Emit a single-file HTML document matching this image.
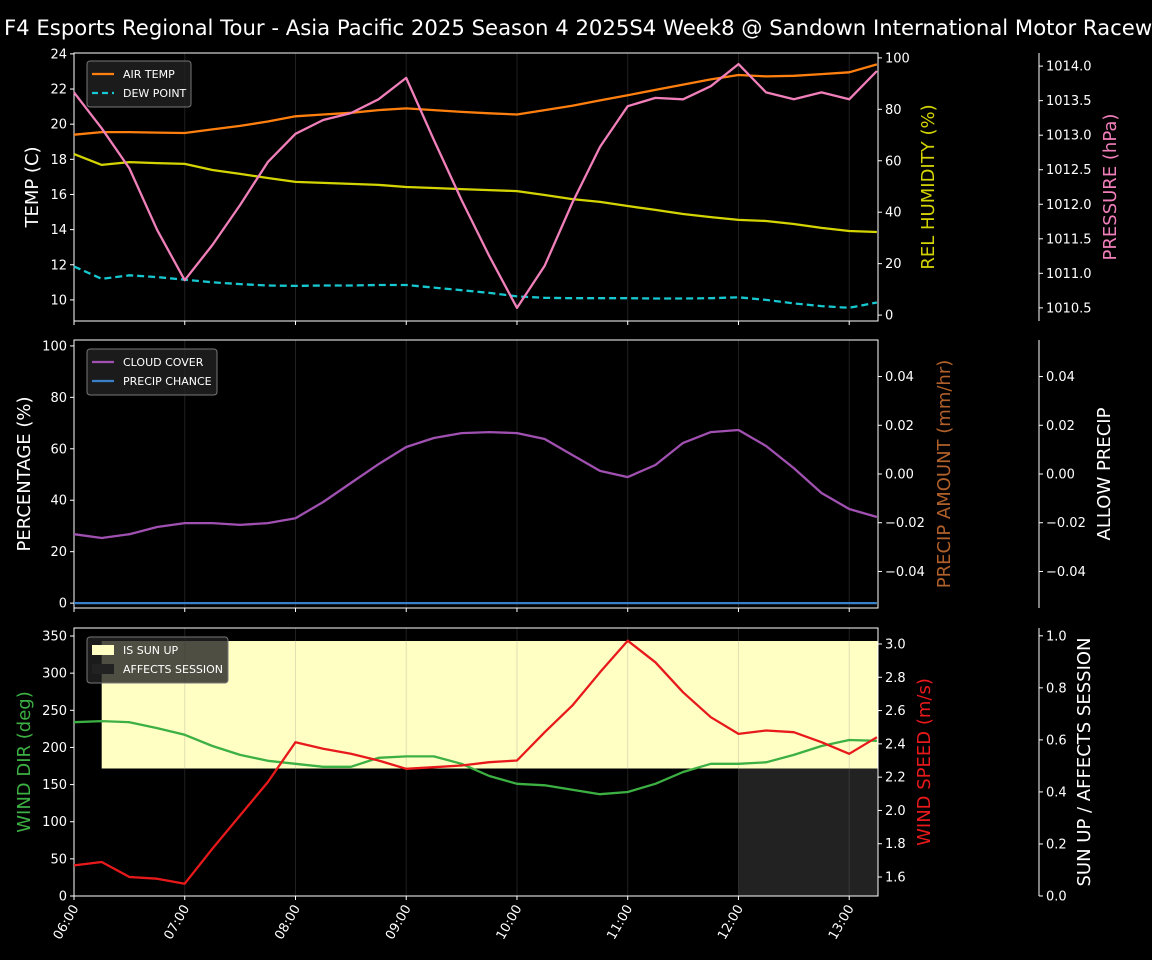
<!DOCTYPE html>
<html><head><meta charset="utf-8"><style>
html,body{margin:0;padding:0;background:#000;width:1152px;height:960px;overflow:hidden}
svg text{font-family:"DejaVu Sans","Liberation Sans",sans-serif}
</style></head><body>
<svg id="c" width="1152" height="960" xmlns="http://www.w3.org/2000/svg">
<text x="4" y="35" font-size="21.2" fill="#fff">F4 Esports Regional Tour - Asia Pacific 2025 Season 4 2025S4 Week8 @ Sandown International Motor Raceway</text>
</svg>
<script>
const times=[6,6.25,6.5,6.75,7,7.25,7.5,7.75,8,8.25,8.5,8.75,9,9.25,9.5,9.75,10,10.25,10.5,10.75,11,11.25,11.5,11.75,12,12.25,12.5,12.75,13,13.25];
const hourTicks=[6,7,8,9,10,11,12,13];
const hourLabels=["06:00","07:00","08:00","09:00","10:00","11:00","12:00","13:00"];
const airTemp=[19.4,19.55,19.55,19.52,19.5,19.7,19.9,20.15,20.45,20.55,20.65,20.8,20.9,20.8,20.7,20.62,20.55,20.8,21.05,21.35,21.65,21.95,22.25,22.55,22.8,22.72,22.75,22.85,22.95,23.4];
const dewPoint=[11.9,11.2,11.4,11.3,11.15,11.0,10.9,10.82,10.8,10.82,10.82,10.85,10.85,10.7,10.55,10.4,10.2,10.12,10.1,10.1,10.1,10.08,10.08,10.1,10.15,10.0,9.8,9.65,9.55,9.85];
const humidity=[62.6,58.4,59.5,59.1,58.8,56.4,54.9,53.3,51.8,51.4,51,50.6,49.8,49.4,49,48.6,48.2,46.7,45.1,44,42.4,40.9,39.3,38.1,37,36.6,35.4,33.9,32.7,32.3];
const pressure=[1013.62,1013.10,1012.52,1011.63,1010.90,1011.41,1011.99,1012.61,1013.02,1013.22,1013.32,1013.52,1013.83,1012.93,1012.06,1011.25,1010.50,1011.11,1012.02,1012.83,1013.42,1013.54,1013.52,1013.71,1014.03,1013.62,1013.52,1013.62,1013.52,1013.93];
const cloudCover=[26.8,25.3,26.8,29.6,31.1,31.1,30.4,31.1,33,39.3,46.7,54,60.7,64.2,66.1,66.5,66.1,63.8,57.6,51.4,49,53.7,62.3,66.5,67.3,61.1,52.5,42.8,36.6,33.5];
const precipChance=[0,0,0,0,0,0,0,0,0,0,0,0,0,0,0,0,0,0,0,0,0,0,0,0,0,0,0,0,0,0];
const windDir=[234,235.5,234,226,217,202,190,182,178,174,174,186,188,188,178,161.5,151,149,143,137,140,151,167,178,178,180,190,202,210,209];
const windSpeed=[1.67,1.69,1.60,1.59,1.56,1.77,1.97,2.17,2.41,2.37,2.34,2.30,2.25,2.26,2.27,2.29,2.30,2.47,2.63,2.83,3.02,2.89,2.71,2.56,2.46,2.48,2.47,2.41,2.34,2.44];
const sunUp=[0,1,1,1,1,1,1,1,1,1,1,1,1,1,1,1,1,1,1,1,1,1,1,1,1,1,1,1,1,1];
const affects=[0,0,0,0,0,0,0,0,0,0,0,0,0,0,0,0,0,0,0,0,0,0,0,0,1,1,1,1,1,1];
const tempTicks=[10,12,14,16,18,20,22,24];
const humTicks=[0,20,40,60,80,100];
const presTicks=[1010.5,1011,1011.5,1012,1012.5,1013,1013.5,1014];
const pctTicks=[0,20,40,60,80,100];
const precTicks=[-0.04,-0.02,0,0.02,0.04];
const dirTicks=[0,50,100,150,200,250,300,350];
const spdTicks=[1.6,1.8,2.0,2.2,2.4,2.6,2.8,3.0];
const sunTicks=[0,0.2,0.4,0.6,0.8,1.0];

const NS='http://www.w3.org/2000/svg',svg=document.getElementById('c');
const X0=74,X1=878,xmin=6,xmax=13.26;
const X=t=>X0+(t-xmin)/(xmax-xmin)*(X1-X0);
function mk(tag,at,parent){const e=document.createElementNS(NS,tag);for(const k in at)e.setAttribute(k,at[k]);(parent||svg).appendChild(e);return e;}
function lin(d0,d1,p0,p1){return v=>p0+(v-d0)/(d1-d0)*(p1-p0);}
function path(xs,ys,Y,color,name,dash){const d=xs.map((t,i)=>(i?'L':'M')+X(t).toFixed(1)+','+Y(ys[i]).toFixed(1)).join('');
 const p=mk('path',{d:d,fill:'none',stroke:color,'stroke-width':2.3,'stroke-linejoin':'round'});if(dash)p.setAttribute('stroke-dasharray',dash);
 
 return p;}
function axis(x,ticks,Y,fmt,side,name){const g=mk('g',{});
 
 
 ticks.forEach(v=>{const y=Y(v);mk('line',{x1:x,x2:x+(side<0?-4:4),y1:y,y2:y,stroke:'#fff'},g);
  const t=mk('text',{x:x+(side<0?-7:7),y:y+4.5,'font-size':13,fill:'#fff','text-anchor':side<0?'end':'start'},g);t.textContent=fmt(v);});}
function vtitle(x,y,txt,color,name){const t=mk('text',{x:x,y:y,'font-size':18,fill:color,'text-anchor':'middle',transform:`rotate(-90 ${x} ${y})`});t.textContent=txt;
 
 }
function frame(y0,y1,name){hourTicks.forEach(h=>mk('line',{x1:X(h),x2:X(h),y1:y0,y2:y1,stroke:'#808080','stroke-width':1,'stroke-opacity':0.25}));
 const r=mk('rect',{x:X0,y:y0,width:X1-X0,height:y1-y0,fill:'none',stroke:'#fff','stroke-width':1});
 
 
 hourTicks.forEach(h=>mk('line',{x1:X(h),x2:X(h),y1:y1,y2:y1+4,stroke:'#fff'}));}
function spine(x,y0,y1){mk('line',{x1:x,x2:x,y1:y0,y2:y1,stroke:'#fff'});}
function legend(x,y,w,items,name){const g=mk('g',{});
 
 
 mk('rect',{x:x,y:y,width:w,height:items.length*19+8,rx:3,fill:'#222','fill-opacity':0.8,stroke:'#777'},g);
 items.forEach((it,i)=>{const yy=y+13+i*19;
  if(it.box)mk('rect',{x:x+5,y:yy-5,width:22,height:10,fill:it.color},g);
  else{const l=mk('line',{x1:x+5,x2:x+27,y1:yy,y2:yy,stroke:it.color,'stroke-width':2.2},g);if(it.dash)l.setAttribute('stroke-dasharray',it.dash);}
  const t=mk('text',{x:x+36,y:yy+4,'font-size':11,fill:'#fff'},g);t.textContent=it.label;});}
const fmt0=v=>String(v),fmt1=v=>v.toFixed(1),fmt2=v=>(v<0?'\u2212':'')+Math.abs(v).toFixed(2);

// Panel 1
{const y0=53,y1=321;frame(y0,y1,'temp-panel');
 const YT=lin(8.8,24.05,y1,y0),YH=lin(-2.3,101.9,y1,y0),YP=lin(1010.31,1014.19,y1,y0);
 path(times,humidity,YH,'#d4d400','humidity-line');
 path(times,airTemp,YT,'#ff7f0e','air-temp-line');
 path(times,dewPoint,YT,'#17c8d0','dew-point-line','7,4');
 path(times,pressure,YP,'#f07fba','pressure-line');
 axis(X0,tempTicks,YT,fmt0,-1,'temp-axis');axis(X1,humTicks,YH,fmt0,1,'humidity-axis');
 spine(1039,y0,y1);axis(1039,presTicks,YP,fmt1,1,'pressure-axis');
 vtitle(38,187,'TEMP (C)','#fff','temp-axis-title');vtitle(934,187,'REL HUMIDITY (%)','#d4d400','humidity-axis-title');vtitle(1116,187,'PRESSURE (hPa)','#f07fba','pressure-axis-title');
 legend(87,61,104,[{label:'AIR TEMP',color:'#ff7f0e'},{label:'DEW POINT',color:'#17c8d0',dash:'6,4'}],'temp-legend');}
// Panel 2
{const y0=340,y1=608;frame(y0,y1,'precip-panel');
 const YC=lin(-1.9,102.3,y1,y0),YR=lin(-0.055,0.055,y1,y0);
 path(times,cloudCover,YC,'#a050b0','cloud-cover-line');
 path(times,precipChance,YC,'#3a80c8','precip-chance-line');
 axis(X0,pctTicks,YC,fmt0,-1,'percentage-axis');axis(X1,precTicks,YR,fmt2,1,'precip-amount-axis');
 spine(1039,y0,y1);axis(1039,precTicks,YR,fmt2,1,'allow-precip-axis');
 vtitle(30,474,'PERCENTAGE (%)','#fff','percentage-axis-title');vtitle(950,474,'PRECIP AMOUNT (mm/hr)','#b0602a','precip-axis-title');vtitle(1110,474,'ALLOW PRECIP','#fff','allow-precip-title');
 legend(87,349,130,[{label:'CLOUD COVER',color:'#a050b0'},{label:'PRECIP CHANCE',color:'#3a80c8'}],'precip-legend');}
// Panel 3
{const y0=628,y1=896;
 const YD=lin(0,360.8,y1,y0),YS=lin(1.486,3.096,y1,y0),YU=lin(0,1.03,y1,y0);
 const step=0.25;
 times.forEach((t,i)=>{const xa=X(t),xb=Math.min(X(t+step),X1);
  if(sunUp[i]){const r=mk('rect',{x:xa,y:YU(0.98),width:xb-xa+0.5,height:YU(0.49)-YU(0.98),fill:'#ffffc4'});
   
   }
  if(affects[i]){const r=mk('rect',{x:xa,y:YU(0.49),width:xb-xa+0.5,height:YU(0)-YU(0.49),fill:'#222'});
   
   }});
 frame(y0,y1,'wind-panel');
 path(times,windDir,YD,'#3cb043','wind-dir-line');
 path(times,windSpeed,YS,'#e8191b','wind-speed-line');
 axis(X0,dirTicks,YD,fmt0,-1,'wind-dir-axis');axis(X1,spdTicks,YS,fmt1,1,'wind-speed-axis');
 spine(1039,y0,y1);axis(1039,sunTicks,YU,fmt1,1,'sun-up-axis');
 vtitle(30,762,'WIND DIR (deg)','#3cb043','wind-dir-title');vtitle(930,762,'WIND SPEED (m/s)','#e8191b','wind-speed-title');vtitle(1090,762,'SUN UP / AFFECTS SESSION','#fff','sun-up-title');
 legend(87,637,141,[{label:'IS SUN UP',color:'#ffffc4',box:1},{label:'AFFECTS SESSION',color:'#222',box:1}],'wind-legend');
 hourTicks.forEach((h,i)=>{const x=X(h)+5,y=y1+12;const t=mk('text',{x:x,y:y,'font-size':13,fill:'#fff','text-anchor':'end',transform:`rotate(-60 ${x} ${y})`});t.textContent=hourLabels[i];
  
  });}
</script>
</body></html>
